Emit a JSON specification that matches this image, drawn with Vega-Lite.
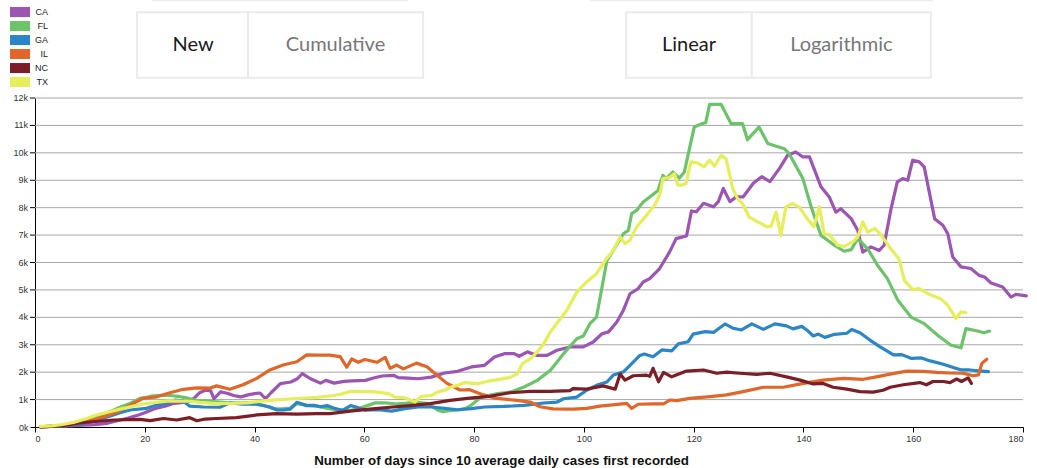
{
  "$schema": "https://vega.github.io/schema/vega-lite/v6.json",
  "width": 988,
  "height": 329,
  "autosize": {"type": "none"},
  "padding": {"left": 35, "top": 98, "right": 14, "bottom": 41},
  "background": "white",
  "config": {"view": {"stroke": null}, "axis": {"labelOverlap": false}},
  "resolve": {"axis": {"x": "independent", "y": "independent"}},
  "layer": [
    {
      "data": {"values": [
        {"v": 1000, "lab": "1k"}, {"v": 2000, "lab": "2k"}, {"v": 3000, "lab": "3k"}, {"v": 4000, "lab": "4k"},
        {"v": 5000, "lab": "5k"}, {"v": 6000, "lab": "6k"}, {"v": 7000, "lab": "7k"}, {"v": 8000, "lab": "8k"},
        {"v": 9000, "lab": "9k"}, {"v": 10000, "lab": "10k"}, {"v": 11000, "lab": "11k"}, {"v": 12000, "lab": "12k"}
      ]},
      "mark": {"type": "rule", "color": "#a8a8a8", "strokeWidth": 1},
      "encoding": {
        "y": {"field": "v", "type": "quantitative", "scale": {"domain": [0, 12000], "nice": false}, "axis": null},
        "x": {"datum": 0, "type": "quantitative", "axis": null},
        "x2": {"datum": 180}
      }
    },
    {
      "data": {"values": [
        {"state":"CA","day":1,"cases":10},{"state":"CA","day":3,"cases":20},{"state":"CA","day":5,"cases":30},{"state":"CA","day":7,"cases":50},{"state":"CA","day":9,"cases":70},{"state":"CA","day":11,"cases":90},{"state":"CA","day":13,"cases":130},{"state":"CA","day":15,"cases":230},{"state":"CA","day":17,"cases":330},{"state":"CA","day":19,"cases":450},{"state":"CA","day":20,"cases":520},{"state":"CA","day":22,"cases":680},{"state":"CA","day":24,"cases":780},{"state":"CA","day":25,"cases":850},{"state":"CA","day":27,"cases":900},{"state":"CA","day":28,"cases":930},{"state":"CA","day":29,"cases":1050},{"state":"CA","day":30,"cases":1250},{"state":"CA","day":31,"cases":1340},{"state":"CA","day":32,"cases":1330},{"state":"CA","day":32.6,"cases":1030},{"state":"CA","day":33.8,"cases":1280},{"state":"CA","day":35,"cases":1230},{"state":"CA","day":36.2,"cases":1150},{"state":"CA","day":37.5,"cases":1100},{"state":"CA","day":39,"cases":1180},{"state":"CA","day":40,"cases":1215},{"state":"CA","day":41,"cases":1240},{"state":"CA","day":42,"cases":1030},{"state":"CA","day":43,"cases":1250},{"state":"CA","day":44.7,"cases":1580},{"state":"CA","day":46.6,"cases":1640},{"state":"CA","day":47.8,"cases":1760},{"state":"CA","day":48.7,"cases":1950},{"state":"CA","day":50.2,"cases":1760},{"state":"CA","day":52,"cases":1600},{"state":"CA","day":53,"cases":1700},{"state":"CA","day":54.5,"cases":1600},{"state":"CA","day":56.3,"cases":1665},{"state":"CA","day":57.8,"cases":1680},{"state":"CA","day":60.2,"cases":1700},{"state":"CA","day":61.5,"cases":1780},{"state":"CA","day":63.2,"cases":1860},{"state":"CA","day":65.3,"cases":1885},{"state":"CA","day":66.2,"cases":1800},{"state":"CA","day":68,"cases":1780},{"state":"CA","day":69.8,"cases":1760},{"state":"CA","day":72.2,"cases":1820},{"state":"CA","day":74.6,"cases":1970},{"state":"CA","day":77,"cases":2030},{"state":"CA","day":79.5,"cases":2190},{"state":"CA","day":81.9,"cases":2250},{"state":"CA","day":83.7,"cases":2550},{"state":"CA","day":85.5,"cases":2675},{"state":"CA","day":87.3,"cases":2675},{"state":"CA","day":88.2,"cases":2580},{"state":"CA","day":89.7,"cases":2740},{"state":"CA","day":91.5,"cases":2610},{"state":"CA","day":93.3,"cases":2610},{"state":"CA","day":95.1,"cases":2800},{"state":"CA","day":97.5,"cases":2920},{"state":"CA","day":99.9,"cases":2920},{"state":"CA","day":101.7,"cases":3100},{"state":"CA","day":103.3,"cases":3400},{"state":"CA","day":104.5,"cases":3470},{"state":"CA","day":106,"cases":3830},{"state":"CA","day":107.2,"cases":4260},{"state":"CA","day":108.4,"cases":4860},{"state":"CA","day":109.9,"cases":5050},{"state":"CA","day":110.8,"cases":5290},{"state":"CA","day":112,"cases":5410},{"state":"CA","day":113.8,"cases":5780},{"state":"CA","day":115.6,"cases":6380},{"state":"CA","day":116.8,"cases":6870},{"state":"CA","day":118.7,"cases":6970},{"state":"CA","day":119.6,"cases":7880},{"state":"CA","day":120.5,"cases":7850},{"state":"CA","day":121.8,"cases":8160},{"state":"CA","day":123.6,"cases":8030},{"state":"CA","day":124.5,"cases":8220},{"state":"CA","day":125.4,"cases":8700},{"state":"CA","day":126.6,"cases":8220},{"state":"CA","day":127.8,"cases":8400},{"state":"CA","day":129,"cases":8390},{"state":"CA","day":130.9,"cases":8900},{"state":"CA","day":132.4,"cases":9130},{"state":"CA","day":133.9,"cases":8950},{"state":"CA","day":135.7,"cases":9450},{"state":"CA","day":137.1,"cases":9910},{"state":"CA","day":138.6,"cases":10030},{"state":"CA","day":139.9,"cases":9850},{"state":"CA","day":141.1,"cases":9850},{"state":"CA","day":143.2,"cases":8760},{"state":"CA","day":144.7,"cases":8390},{"state":"CA","day":145.9,"cases":7840},{"state":"CA","day":146.8,"cases":7960},{"state":"CA","day":148.7,"cases":7600},{"state":"CA","day":149.9,"cases":7170},{"state":"CA","day":150.8,"cases":6380},{"state":"CA","day":152.3,"cases":6570},{"state":"CA","day":153.8,"cases":6440},{"state":"CA","day":154.7,"cases":6630},{"state":"CA","day":155.9,"cases":7900},{"state":"CA","day":157.1,"cases":8940},{"state":"CA","day":158.1,"cases":9060},{"state":"CA","day":159,"cases":9000},{"state":"CA","day":159.9,"cases":9730},{"state":"CA","day":161.1,"cases":9670},{"state":"CA","day":162,"cases":9490},{"state":"CA","day":163.9,"cases":7600},{"state":"CA","day":165.4,"cases":7360},{"state":"CA","day":166.3,"cases":7050},{"state":"CA","day":167.2,"cases":6200},{"state":"CA","day":168.7,"cases":5840},{"state":"CA","day":170.5,"cases":5780},{"state":"CA","day":172,"cases":5530},{"state":"CA","day":173,"cases":5470},{"state":"CA","day":174.2,"cases":5250},{"state":"CA","day":176.3,"cases":5110},{"state":"CA","day":177.8,"cases":4740},{"state":"CA","day":178.7,"cases":4840},{"state":"CA","day":180.6,"cases":4780},
        {"state":"FL","day":1,"cases":10},{"state":"FL","day":3,"cases":30},{"state":"FL","day":5,"cases":60},{"state":"FL","day":7,"cases":120},{"state":"FL","day":9,"cases":220},{"state":"FL","day":11,"cases":350},{"state":"FL","day":13,"cases":500},{"state":"FL","day":15,"cases":680},{"state":"FL","day":17.3,"cases":860},{"state":"FL","day":19.1,"cases":1045},{"state":"FL","day":20.5,"cases":1090},{"state":"FL","day":21.5,"cases":1140},{"state":"FL","day":23,"cases":1150},{"state":"FL","day":24.6,"cases":1150},{"state":"FL","day":26,"cases":1120},{"state":"FL","day":27.6,"cases":1060},{"state":"FL","day":30,"cases":950},{"state":"FL","day":33.1,"cases":920},{"state":"FL","day":35.5,"cases":880},{"state":"FL","day":38.6,"cases":880},{"state":"FL","day":40,"cases":850},{"state":"FL","day":41.6,"cases":790},{"state":"FL","day":43.5,"cases":670},{"state":"FL","day":45,"cases":660},{"state":"FL","day":46.5,"cases":690},{"state":"FL","day":47.7,"cases":850},{"state":"FL","day":49.5,"cases":800},{"state":"FL","day":51.4,"cases":760},{"state":"FL","day":53.8,"cases":660},{"state":"FL","day":56.2,"cases":620},{"state":"FL","day":57.5,"cases":610},{"state":"FL","day":59.2,"cases":680},{"state":"FL","day":60.5,"cases":780},{"state":"FL","day":62,"cases":880},{"state":"FL","day":63.8,"cases":880},{"state":"FL","day":65.9,"cases":840},{"state":"FL","day":67.5,"cases":860},{"state":"FL","day":69.2,"cases":910},{"state":"FL","day":71.6,"cases":850},{"state":"FL","day":73.4,"cases":610},{"state":"FL","day":74.3,"cases":560},{"state":"FL","day":75.5,"cases":600},{"state":"FL","day":77,"cases":620},{"state":"FL","day":78.5,"cases":680},{"state":"FL","day":79.5,"cases":800},{"state":"FL","day":81.3,"cases":1090},{"state":"FL","day":84.3,"cases":1215},{"state":"FL","day":86.7,"cases":1280},{"state":"FL","day":89.1,"cases":1460},{"state":"FL","day":91.5,"cases":1700},{"state":"FL","day":93.9,"cases":2070},{"state":"FL","day":96.3,"cases":2675},{"state":"FL","day":98.7,"cases":3220},{"state":"FL","day":99.9,"cases":3320},{"state":"FL","day":101.1,"cases":3770},{"state":"FL","day":102.3,"cases":4010},{"state":"FL","day":103.2,"cases":4990},{"state":"FL","day":104.2,"cases":6080},{"state":"FL","day":105.4,"cases":6450},{"state":"FL","day":107.2,"cases":7050},{"state":"FL","day":108.1,"cases":7170},{"state":"FL","day":108.7,"cases":7780},{"state":"FL","day":109.6,"cases":7900},{"state":"FL","day":110.8,"cases":8210},{"state":"FL","day":112,"cases":8390},{"state":"FL","day":113.5,"cases":8630},{"state":"FL","day":114.4,"cases":9180},{"state":"FL","day":115,"cases":9060},{"state":"FL","day":116.2,"cases":9300},{"state":"FL","day":117.4,"cases":9080},{"state":"FL","day":118.3,"cases":9300},{"state":"FL","day":118.9,"cases":9850},{"state":"FL","day":120.1,"cases":10940},{"state":"FL","day":121.6,"cases":11070},{"state":"FL","day":122.2,"cases":11100},{"state":"FL","day":122.9,"cases":11770},{"state":"FL","day":125,"cases":11770},{"state":"FL","day":126.8,"cases":11070},{"state":"FL","day":128.9,"cases":11070},{"state":"FL","day":129.8,"cases":10480},{"state":"FL","day":131.9,"cases":10940},{"state":"FL","day":133.5,"cases":10340},{"state":"FL","day":136.5,"cases":10150},{"state":"FL","day":137.4,"cases":9970},{"state":"FL","day":139.9,"cases":9060},{"state":"FL","day":141.4,"cases":8030},{"state":"FL","day":143.2,"cases":6990},{"state":"FL","day":144.4,"cases":6810},{"state":"FL","day":145.6,"cases":6630},{"state":"FL","day":147.4,"cases":6410},{"state":"FL","day":148.7,"cases":6470},{"state":"FL","day":149.9,"cases":6870},{"state":"FL","day":151.7,"cases":6500},{"state":"FL","day":153.5,"cases":5900},{"state":"FL","day":155.3,"cases":5410},{"state":"FL","day":157.2,"cases":4620},{"state":"FL","day":159.6,"cases":4010},{"state":"FL","day":162,"cases":3770},{"state":"FL","day":164.5,"cases":3340},{"state":"FL","day":166.9,"cases":2980},{"state":"FL","day":168.7,"cases":2890},{"state":"FL","day":169.6,"cases":3590},{"state":"FL","day":170.5,"cases":3550},{"state":"FL","day":171.7,"cases":3500},{"state":"FL","day":172.9,"cases":3440},{"state":"FL","day":173.9,"cases":3500},
        {"state":"GA","day":1,"cases":5},{"state":"GA","day":3,"cases":20},{"state":"GA","day":5,"cases":40},{"state":"GA","day":7,"cases":80},{"state":"GA","day":9,"cases":140},{"state":"GA","day":11,"cases":230},{"state":"GA","day":12.4,"cases":320},{"state":"GA","day":14,"cases":420},{"state":"GA","day":15.5,"cases":520},{"state":"GA","day":17.3,"cases":620},{"state":"GA","day":20.3,"cases":680},{"state":"GA","day":22.2,"cases":800},{"state":"GA","day":24.6,"cases":900},{"state":"GA","day":25.5,"cases":980},{"state":"GA","day":27,"cases":950},{"state":"GA","day":28.2,"cases":760},{"state":"GA","day":30.7,"cases":730},{"state":"GA","day":33.7,"cases":720},{"state":"GA","day":35.5,"cases":880},{"state":"GA","day":37.9,"cases":830},{"state":"GA","day":40.4,"cases":830},{"state":"GA","day":42.8,"cases":730},{"state":"GA","day":44.1,"cases":620},{"state":"GA","day":45.2,"cases":620},{"state":"GA","day":46.5,"cases":650},{"state":"GA","day":47.7,"cases":900},{"state":"GA","day":49.5,"cases":780},{"state":"GA","day":50.8,"cases":790},{"state":"GA","day":52,"cases":740},{"state":"GA","day":53.2,"cases":780},{"state":"GA","day":54.5,"cases":680},{"state":"GA","day":56,"cases":610},{"state":"GA","day":57.5,"cases":780},{"state":"GA","day":58.5,"cases":730},{"state":"GA","day":60.2,"cases":610},{"state":"GA","day":62.6,"cases":630},{"state":"GA","day":65,"cases":580},{"state":"GA","day":67.4,"cases":670},{"state":"GA","day":69.8,"cases":730},{"state":"GA","day":72.2,"cases":730},{"state":"GA","day":74.6,"cases":680},{"state":"GA","day":77,"cases":630},{"state":"GA","day":79.5,"cases":670},{"state":"GA","day":81.9,"cases":730},{"state":"GA","day":85.5,"cases":750},{"state":"GA","day":89.1,"cases":790},{"state":"GA","day":92.7,"cases":875},{"state":"GA","day":95.1,"cases":910},{"state":"GA","day":96.3,"cases":1030},{"state":"GA","day":98.7,"cases":1090},{"state":"GA","day":100.5,"cases":1340},{"state":"GA","day":102.3,"cases":1520},{"state":"GA","day":104.2,"cases":1640},{"state":"GA","day":105.4,"cases":1900},{"state":"GA","day":107.2,"cases":2010},{"state":"GA","day":108.4,"cases":2250},{"state":"GA","day":110.2,"cases":2610},{"state":"GA","day":111,"cases":2660},{"state":"GA","day":112.6,"cases":2560},{"state":"GA","day":114.2,"cases":2810},{"state":"GA","day":116,"cases":2780},{"state":"GA","day":117.2,"cases":3030},{"state":"GA","day":119,"cases":3110},{"state":"GA","day":119.9,"cases":3390},{"state":"GA","day":122.1,"cases":3480},{"state":"GA","day":123.6,"cases":3450},{"state":"GA","day":125.7,"cases":3760},{"state":"GA","day":127.2,"cases":3600},{"state":"GA","day":128.7,"cases":3540},{"state":"GA","day":130.6,"cases":3760},{"state":"GA","day":132.7,"cases":3560},{"state":"GA","day":134.8,"cases":3760},{"state":"GA","day":136.9,"cases":3690},{"state":"GA","day":138.1,"cases":3580},{"state":"GA","day":139.7,"cases":3670},{"state":"GA","day":140.6,"cases":3540},{"state":"GA","day":141.8,"cases":3320},{"state":"GA","day":142.7,"cases":3390},{"state":"GA","day":143.9,"cases":3270},{"state":"GA","day":145.7,"cases":3380},{"state":"GA","day":147.9,"cases":3420},{"state":"GA","day":148.8,"cases":3560},{"state":"GA","day":150.3,"cases":3440},{"state":"GA","day":152.1,"cases":3170},{"state":"GA","day":153.9,"cases":2930},{"state":"GA","day":156.4,"cases":2630},{"state":"GA","day":157.9,"cases":2640},{"state":"GA","day":159.7,"cases":2500},{"state":"GA","day":161.5,"cases":2520},{"state":"GA","day":163.1,"cases":2410},{"state":"GA","day":165.5,"cases":2290},{"state":"GA","day":167.3,"cases":2170},{"state":"GA","day":168.8,"cases":2080},{"state":"GA","day":170.3,"cases":2080},{"state":"GA","day":171.9,"cases":2050},{"state":"GA","day":173.7,"cases":2020},
        {"state":"IL","day":1,"cases":10},{"state":"IL","day":3,"cases":30},{"state":"IL","day":5,"cases":60},{"state":"IL","day":7,"cases":110},{"state":"IL","day":9,"cases":180},{"state":"IL","day":11,"cases":280},{"state":"IL","day":13,"cases":400},{"state":"IL","day":15,"cases":550},{"state":"IL","day":17.3,"cases":800},{"state":"IL","day":19.7,"cases":1045},{"state":"IL","day":22.2,"cases":1100},{"state":"IL","day":24.6,"cases":1250},{"state":"IL","day":27,"cases":1375},{"state":"IL","day":29.5,"cases":1430},{"state":"IL","day":31.9,"cases":1420},{"state":"IL","day":33.1,"cases":1500},{"state":"IL","day":35.5,"cases":1375},{"state":"IL","day":37.9,"cases":1540},{"state":"IL","day":40.4,"cases":1775},{"state":"IL","day":42.8,"cases":2080},{"state":"IL","day":45.2,"cases":2260},{"state":"IL","day":47.7,"cases":2380},{"state":"IL","day":49.5,"cases":2630},{"state":"IL","day":51.3,"cases":2620},{"state":"IL","day":53.7,"cases":2620},{"state":"IL","day":55.6,"cases":2570},{"state":"IL","day":56.8,"cases":2180},{"state":"IL","day":57.7,"cases":2480},{"state":"IL","day":58.9,"cases":2360},{"state":"IL","day":60.1,"cases":2460},{"state":"IL","day":62.3,"cases":2360},{"state":"IL","day":63.8,"cases":2540},{"state":"IL","day":64.7,"cases":2140},{"state":"IL","day":65.9,"cases":2260},{"state":"IL","day":67.1,"cases":2120},{"state":"IL","day":69.5,"cases":2330},{"state":"IL","day":71.4,"cases":2200},{"state":"IL","day":73.2,"cases":1900},{"state":"IL","day":75,"cases":1600},{"state":"IL","day":77.4,"cases":1350},{"state":"IL","day":79.2,"cases":1360},{"state":"IL","day":81.7,"cases":1170},{"state":"IL","day":84.1,"cases":1045},{"state":"IL","day":87.8,"cases":970},{"state":"IL","day":90.2,"cases":910},{"state":"IL","day":92,"cases":740},{"state":"IL","day":94.4,"cases":660},{"state":"IL","day":98.1,"cases":650},{"state":"IL","day":100.5,"cases":680},{"state":"IL","day":102.9,"cases":760},{"state":"IL","day":104.8,"cases":800},{"state":"IL","day":107.8,"cases":860},{"state":"IL","day":108.7,"cases":680},{"state":"IL","day":109.9,"cases":830},{"state":"IL","day":112.6,"cases":840},{"state":"IL","day":114.5,"cases":840},{"state":"IL","day":115.7,"cases":985},{"state":"IL","day":116.9,"cases":960},{"state":"IL","day":119.3,"cases":1045},{"state":"IL","day":123,"cases":1110},{"state":"IL","day":126,"cases":1170},{"state":"IL","day":129,"cases":1290},{"state":"IL","day":132.7,"cases":1450},{"state":"IL","day":136.3,"cases":1450},{"state":"IL","day":140,"cases":1590},{"state":"IL","day":143.6,"cases":1710},{"state":"IL","day":147.3,"cases":1775},{"state":"IL","day":150.9,"cases":1740},{"state":"IL","day":153.3,"cases":1830},{"state":"IL","day":155.8,"cases":1930},{"state":"IL","day":158.8,"cases":2040},{"state":"IL","day":161.8,"cases":2030},{"state":"IL","day":164.3,"cases":1990},{"state":"IL","day":166.7,"cases":1970},{"state":"IL","day":169.1,"cases":1960},{"state":"IL","day":170.9,"cases":1870},{"state":"IL","day":171.9,"cases":1900},{"state":"IL","day":172.5,"cases":2320},{"state":"IL","day":173.4,"cases":2470},
        {"state":"NC","day":1,"cases":5},{"state":"NC","day":3,"cases":20},{"state":"NC","day":5,"cases":50},{"state":"NC","day":8.2,"cases":150},{"state":"NC","day":11,"cases":200},{"state":"NC","day":14.3,"cases":255},{"state":"NC","day":19.1,"cases":280},{"state":"NC","day":21,"cases":230},{"state":"NC","day":23.4,"cases":310},{"state":"NC","day":25.8,"cases":255},{"state":"NC","day":28.2,"cases":340},{"state":"NC","day":29.5,"cases":230},{"state":"NC","day":31,"cases":290},{"state":"NC","day":33.1,"cases":310},{"state":"NC","day":36.7,"cases":340},{"state":"NC","day":40.4,"cases":440},{"state":"NC","day":44,"cases":490},{"state":"NC","day":47.7,"cases":470},{"state":"NC","day":51.3,"cases":490},{"state":"NC","day":53.7,"cases":490},{"state":"NC","day":57.4,"cases":580},{"state":"NC","day":61,"cases":650},{"state":"NC","day":64.7,"cases":720},{"state":"NC","day":68.3,"cases":780},{"state":"NC","day":72,"cases":850},{"state":"NC","day":75.6,"cases":970},{"state":"NC","day":79.2,"cases":1050},{"state":"NC","day":82.9,"cases":1120},{"state":"NC","day":86.5,"cases":1250},{"state":"NC","day":90.2,"cases":1300},{"state":"NC","day":93.8,"cases":1300},{"state":"NC","day":97.5,"cases":1330},{"state":"NC","day":98,"cases":1400},{"state":"NC","day":100.5,"cases":1380},{"state":"NC","day":103.5,"cases":1500},{"state":"NC","day":105.7,"cases":1380},{"state":"NC","day":106.6,"cases":1930},{"state":"NC","day":107.5,"cases":1710},{"state":"NC","day":109,"cases":1870},{"state":"NC","day":111.4,"cases":1890},{"state":"NC","day":112,"cases":1850},{"state":"NC","day":112.6,"cases":2140},{"state":"NC","day":113.6,"cases":1650},{"state":"NC","day":114.5,"cases":1990},{"state":"NC","day":116,"cases":1830},{"state":"NC","day":118.7,"cases":2040},{"state":"NC","day":121.8,"cases":2080},{"state":"NC","day":124.2,"cases":1960},{"state":"NC","day":126,"cases":2000},{"state":"NC","day":128.4,"cases":1960},{"state":"NC","day":131.5,"cases":1920},{"state":"NC","day":133.9,"cases":1960},{"state":"NC","day":136.9,"cases":1830},{"state":"NC","day":139.4,"cases":1710},{"state":"NC","day":141.8,"cases":1570},{"state":"NC","day":143.6,"cases":1590},{"state":"NC","day":145.4,"cases":1450},{"state":"NC","day":147.9,"cases":1380},{"state":"NC","day":150.3,"cases":1290},{"state":"NC","day":152.7,"cases":1270},{"state":"NC","day":154.5,"cases":1340},{"state":"NC","day":155.8,"cases":1450},{"state":"NC","day":158.2,"cases":1540},{"state":"NC","day":161.2,"cases":1620},{"state":"NC","day":162.4,"cases":1540},{"state":"NC","day":163.6,"cases":1660},{"state":"NC","day":165.5,"cases":1660},{"state":"NC","day":166.7,"cases":1620},{"state":"NC","day":167.9,"cases":1750},{"state":"NC","day":168.8,"cases":1660},{"state":"NC","day":170,"cases":1790},{"state":"NC","day":170.6,"cases":1590},
        {"state":"TX","day":1,"cases":20},{"state":"TX","day":3,"cases":40},{"state":"TX","day":5,"cases":90},{"state":"TX","day":7,"cases":170},{"state":"TX","day":9,"cases":280},{"state":"TX","day":11.2,"cases":440},{"state":"TX","day":13,"cases":530},{"state":"TX","day":16.1,"cases":680},{"state":"TX","day":19.7,"cases":840},{"state":"TX","day":22,"cases":900},{"state":"TX","day":24.6,"cases":950},{"state":"TX","day":28.2,"cases":940},{"state":"TX","day":30,"cases":900},{"state":"TX","day":33.1,"cases":850},{"state":"TX","day":36,"cases":860},{"state":"TX","day":38.6,"cases":880},{"state":"TX","day":41.6,"cases":950},{"state":"TX","day":44.6,"cases":1000},{"state":"TX","day":47.7,"cases":1040},{"state":"TX","day":51.3,"cases":1080},{"state":"TX","day":54.5,"cases":1150},{"state":"TX","day":56,"cases":1215},{"state":"TX","day":57.5,"cases":1300},{"state":"TX","day":60.2,"cases":1300},{"state":"TX","day":62,"cases":1280},{"state":"TX","day":64.4,"cases":1220},{"state":"TX","day":65.6,"cases":1090},{"state":"TX","day":67.4,"cases":1070},{"state":"TX","day":68.6,"cases":970},{"state":"TX","day":69.2,"cases":910},{"state":"TX","day":70.4,"cases":1120},{"state":"TX","day":72.2,"cases":1150},{"state":"TX","day":73.4,"cases":1280},{"state":"TX","day":74.6,"cases":1340},{"state":"TX","day":75.8,"cases":1460},{"state":"TX","day":77,"cases":1520},{"state":"TX","day":78.3,"cases":1620},{"state":"TX","day":80.7,"cases":1580},{"state":"TX","day":82.5,"cases":1670},{"state":"TX","day":84.3,"cases":1730},{"state":"TX","day":86.7,"cases":1820},{"state":"TX","day":87.9,"cases":1950},{"state":"TX","day":88.8,"cases":2310},{"state":"TX","day":90.3,"cases":2490},{"state":"TX","day":91.5,"cases":2740},{"state":"TX","day":92.7,"cases":3040},{"state":"TX","day":93.9,"cases":3470},{"state":"TX","day":95.7,"cases":3950},{"state":"TX","day":96.9,"cases":4260},{"state":"TX","day":98.7,"cases":4920},{"state":"TX","day":100.5,"cases":5290},{"state":"TX","day":102.3,"cases":5590},{"state":"TX","day":103.9,"cases":6080},{"state":"TX","day":105.4,"cases":6450},{"state":"TX","day":106.6,"cases":6930},{"state":"TX","day":107.5,"cases":6690},{"state":"TX","day":108.4,"cases":6810},{"state":"TX","day":109.6,"cases":7300},{"state":"TX","day":111.4,"cases":7720},{"state":"TX","day":112.9,"cases":8090},{"state":"TX","day":113.8,"cases":8450},{"state":"TX","day":114.4,"cases":9060},{"state":"TX","day":115.6,"cases":9100},{"state":"TX","day":116.5,"cases":9240},{"state":"TX","day":117.1,"cases":8820},{"state":"TX","day":117.7,"cases":8820},{"state":"TX","day":118.6,"cases":8880},{"state":"TX","day":119.5,"cases":9670},{"state":"TX","day":120.7,"cases":9630},{"state":"TX","day":121.9,"cases":9490},{"state":"TX","day":122.9,"cases":9730},{"state":"TX","day":123.8,"cases":9510},{"state":"TX","day":125,"cases":9910},{"state":"TX","day":125.9,"cases":9790},{"state":"TX","day":127.1,"cases":8700},{"state":"TX","day":128,"cases":8330},{"state":"TX","day":128.9,"cases":8150},{"state":"TX","day":130.1,"cases":7660},{"state":"TX","day":131.7,"cases":7480},{"state":"TX","day":133.2,"cases":7320},{"state":"TX","day":134.1,"cases":7320},{"state":"TX","day":135,"cases":7840},{"state":"TX","day":135.9,"cases":6990},{"state":"TX","day":136.8,"cases":8030},{"state":"TX","day":138,"cases":8150},{"state":"TX","day":139.2,"cases":8030},{"state":"TX","day":140.7,"cases":7600},{"state":"TX","day":141.9,"cases":7300},{"state":"TX","day":142.9,"cases":8030},{"state":"TX","day":143.8,"cases":7030},{"state":"TX","day":144.7,"cases":7030},{"state":"TX","day":146.2,"cases":6630},{"state":"TX","day":147.4,"cases":6590},{"state":"TX","day":149,"cases":6750},{"state":"TX","day":149.9,"cases":6930},{"state":"TX","day":150.8,"cases":7480},{"state":"TX","day":151.7,"cases":7110},{"state":"TX","day":153,"cases":7240},{"state":"TX","day":154.2,"cases":6990},{"state":"TX","day":155.9,"cases":6500},{"state":"TX","day":157.4,"cases":6140},{"state":"TX","day":158.4,"cases":5350},{"state":"TX","day":159.9,"cases":5010},{"state":"TX","day":161.1,"cases":5050},{"state":"TX","day":162.9,"cases":4840},{"state":"TX","day":165,"cases":4680},{"state":"TX","day":166.3,"cases":4440},{"state":"TX","day":167.8,"cases":3950},{"state":"TX","day":168.7,"cases":4200},{"state":"TX","day":169.6,"cases":4170}
      ]},
      "mark": {"type": "line", "strokeWidth": 3.2, "strokeJoin": "round", "strokeCap": "round"},
      "encoding": {
        "x": {
          "field": "day", "type": "quantitative",
          "scale": {"domain": [0, 180], "nice": false},
          "axis": {
            "values": [0, 20, 40, 60, 80, 100, 120, 140, 160, 180],
            "title": "Number of days since 10 average daily cases first recorded",
            "titleFont": "Liberation Sans Narrow, Liberation Sans, Arial",
            "titleFontSize": 13.3, "titleFontWeight": "bold", "titleColor": "#111",
            "titlePadding": 10, "titleX": 466, "titleAlign": "center",
            "labelFont": "Liberation Sans Narrow, Liberation Sans, Arial",
            "labelFontSize": 9, "labelColor": "#333", "labelOverlap": false,
            "domainColor": "#000", "tickColor": "#000", "tickSize": 5,
            "grid": false, "labelPadding": 2
          }
        },
        "y": {
          "field": "cases", "type": "quantitative",
          "scale": {"domain": [0, 12000], "nice": false},
          "axis": {
            "values": [0],
            "format": "~s",
            "title": null,
            "labelFont": "Liberation Sans Narrow, Liberation Sans, Arial",
            "labelFontSize": 9, "labelColor": "#333", "labelOverlap": false,
            "domainColor": "#000", "tickColor": "#000", "tickSize": 5,
            "grid": false, "labelPadding": 2
          }
        },
        "color": {
          "field": "state", "type": "nominal",
          "scale": {"domain": ["CA", "FL", "GA", "IL", "NC", "TX"],
                    "range": ["#9c55b3", "#6cc46a", "#2a86c6", "#e0662a", "#7d1d26", "#e6ef5a"]},
          "legend": {
            "orient": "none", "legendX": -22, "legendY": -93,
            "title": null,
            "symbolType": "M-1.43,-0.71h2.86v1.43h-2.86z",
            "symbolSize": 196, "symbolOpacity": 1,
            "labelAlign": "right", "labelOffset": 21,
            "labelFont": "Liberation Sans, Arial", "labelFontSize": 9, "labelColor": "#222",
            "rowPadding": 1,
            "encode": {
              "symbols": {
                "update": {
                  "fill": {"scale": "color", "field": "value"},
                  "fillOpacity": {"value": 1},
                  "strokeWidth": {"value": 0}
                }
              }
            }
          }
        }
      }
    },
    {
      "data": {"values": [
        {"v": 1000, "lab": "1k"}, {"v": 2000, "lab": "2k"}, {"v": 3000, "lab": "3k"}, {"v": 4000, "lab": "4k"},
        {"v": 5000, "lab": "5k"}, {"v": 6000, "lab": "6k"}, {"v": 7000, "lab": "7k"}, {"v": 8000, "lab": "8k"},
        {"v": 9000, "lab": "9k"}, {"v": 10000, "lab": "10k"}, {"v": 11000, "lab": "11k"}, {"v": 12000, "lab": "12k"}
      ]},
      "layer": [
        {
          "mark": {"type": "rule", "color": "#000", "strokeWidth": 1, "clip": false},
          "encoding": {
            "y": {"field": "v", "type": "quantitative", "axis": null},
            "x": {"datum": -0.91, "type": "quantitative", "axis": null},
            "x2": {"datum": 0}
          }
        },
        {
          "mark": {"type": "text", "align": "right", "baseline": "middle", "font": "Liberation Sans Narrow, Liberation Sans, Arial", "fontSize": 9, "color": "#333", "clip": false},
          "encoding": {
            "y": {"field": "v", "type": "quantitative", "axis": null},
            "x": {"datum": -1.28, "type": "quantitative", "axis": null},
            "text": {"field": "lab"}
          }
        }
      ]
    },
    {
      "data": {"values": [
        {"x1": 21.3, "x2": 68.0},
        {"x1": 101.1, "x2": 163.6}
      ]},
      "mark": {"type": "rule", "color": "#ececec", "strokeWidth": 1.5, "clip": false},
      "encoding": {
        "x": {"field": "x1", "type": "quantitative", "axis": null},
        "x2": {"field": "x2"},
        "y": {"datum": 15560, "type": "quantitative", "axis": null}
      }
    },
    {
      "data": {"values": [
        {"label": "New", "x1": 18.6, "x2": 38.8, "xc": 28.8, "active": true},
        {"label": "Cumulative", "x1": 38.8, "x2": 70.7, "xc": 54.75, "active": false},
        {"label": "Linear", "x1": 107.7, "x2": 130.6, "xc": 119.15, "active": true},
        {"label": "Logarithmic", "x1": 130.6, "x2": 163.2, "xc": 146.9, "active": false}
      ]},
      "mark": {"type": "rect", "fill": "white", "stroke": "#ebebeb", "strokeWidth": 2, "clip": false},
      "encoding": {
        "x": {"field": "x1", "type": "quantitative", "axis": null},
        "x2": {"field": "x2"},
        "y": {"datum": 15126, "type": "quantitative", "axis": null},
        "y2": {"datum": 12740}
      }
    },
    {
      "data": {"values": [
        {"label": "New", "xc": 28.8, "active": true},
        {"label": "Cumulative", "xc": 54.75, "active": false},
        {"label": "Linear", "xc": 119.15, "active": true},
        {"label": "Logarithmic", "xc": 146.9, "active": false}
      ]},
      "mark": {"type": "text", "font": "Lato", "fontSize": 20, "baseline": "middle", "align": "center", "clip": false},
      "encoding": {
        "x": {"field": "xc", "type": "quantitative", "axis": null},
        "y": {"datum": 13930, "type": "quantitative", "axis": null},
        "text": {"field": "label"},
        "color": {"condition": {"test": "datum.active", "value": "#1a1a1a"}, "value": "#777777"},
        "fontWeight": {"condition": {"test": "datum.active", "value": "bold"}, "value": "normal"}
      }
    }
  ]
}
